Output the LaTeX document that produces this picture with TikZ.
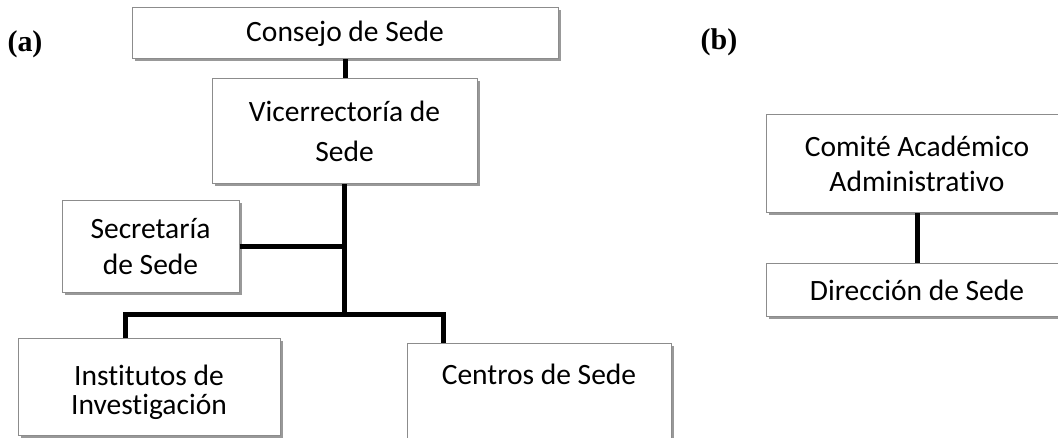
\documentclass[tikz,border=0pt]{standalone}
\usepackage{fontspec}
\setmainfont{Carlito}[Ligatures=NoCommon]
\newfontfamily\panelfont{Liberation Serif}
\usetikzlibrary{positioning,shadows}
\tikzstyle{unit}=[draw=black!45, line width=1pt, fill=white, align=center, inner sep=0pt, font=\fontsize{29.5}{36}\selectfont, drop shadow={shadow xshift=2.5pt, shadow yshift=-2.5pt, fill=black!40, opacity=1}]
\tikzstyle{link}=[line width=5pt]
\tikzstyle{panel}=[font=\panelfont\bfseries\fontsize{30}{34}\selectfont]
\begin{document}
\begin{tikzpicture}[x=1pt, y=-1pt]
    \useasboundingbox (0,0) rectangle (1058,438);
    \node[panel] (pa) at (25,44) {(a)};
    \node[panel] (pb) at (719,42) {(b)};
    \node[unit, minimum width=426pt, minimum height=51pt] (consejo) at (345,33.5) {Consejo de Sede};
    \node[unit, minimum width=265pt, minimum height=105pt, font=\fontsize{29.5}{40}\selectfont] (vice) at (344.5,131) {Vicerrectoría de\\Sede};
    \node[unit, minimum width=177pt, minimum height=92pt] (secre) at (150.5,247) {Secretaría\\de Sede};
    \node[unit, minimum width=262pt, minimum height=96pt, font=\fontsize{29.5}{29}\selectfont] (inst) at (149,387) {\rule{0pt}{32pt}Institutos de\\Investigación};
    \node[unit, minimum width=264pt, minimum height=96pt] (centros) at (539,392) {\rule{0pt}{32pt}Centros de Sede\\\strut};
    \node[unit, minimum width=302pt, minimum height=98pt, font=\fontsize{29.5}{35}\selectfont] (comite) at (917,164) {Comité Académico\\Administrativo};
    \node[unit, minimum width=302pt, minimum height=53pt] (direccion) at (917,290.5) {Dirección de Sede};
    \coordinate (bus) at (345,315);
    \coordinate (busl) at (125,315);
    \coordinate (busr) at (443,315);
    \draw[link] (consejo.south) -- (consejo.south |- vice.north);
    \draw[link] (vice.south) -- (vice.south |- bus);
    \draw[link] (secre.east) -- (secre.east -| vice.south);
    \draw[link] (busl |- inst.north) -- (busl) -- (busr) -- (busr |- centros.north);
    \draw[link] (comite.south) -- (direccion.north);
\end{tikzpicture}
\end{document}
